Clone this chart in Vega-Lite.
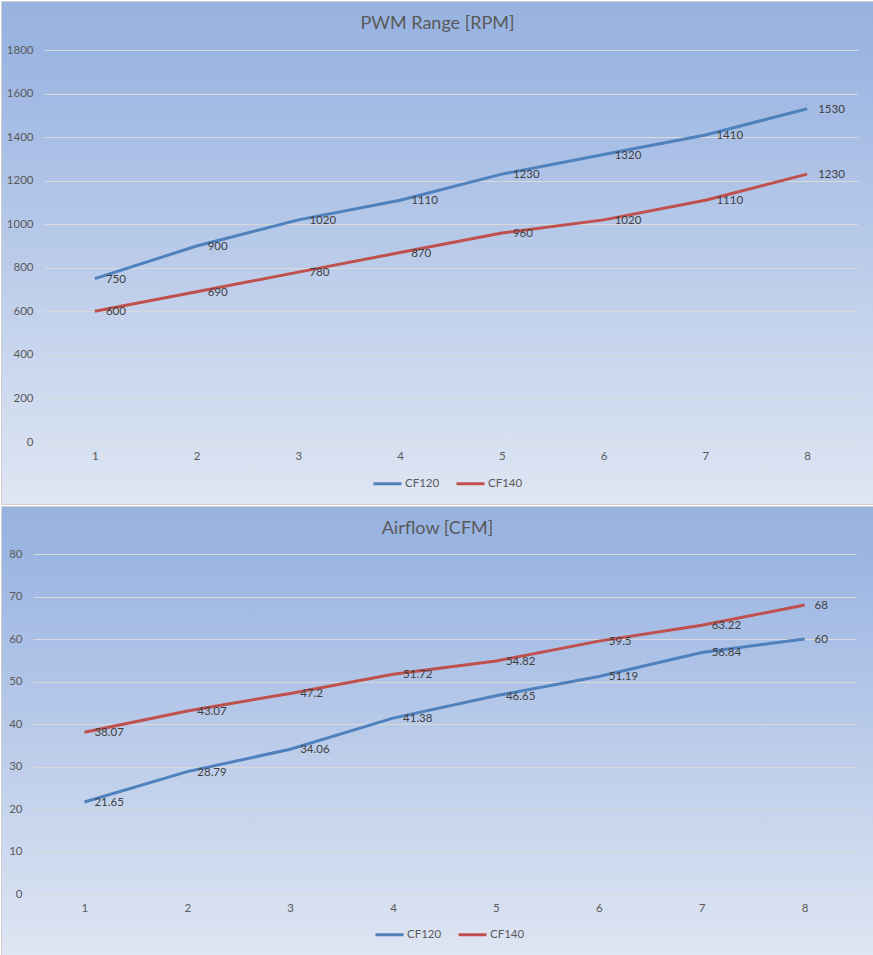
{
  "$schema": "https://vega.github.io/schema/vega-lite/v6.json",
  "padding": 0,
  "spacing": 0,
  "background": "#ffffff",
  "config": {
    "font": "Lato",
    "axis": {"labelFont": "Lato", "labelFontSize": 11.5, "labelColor": "#595959", "domain": false, "ticks": false, "title": null},
    "legend": {"labelFont": "Lato", "labelFontSize": 11.5, "labelColor": "#595959"},
    "title": {"font": "Lato", "fontSize": 18, "fontWeight": "normal", "color": "#595959", "anchor": "middle", "frame": "group"}
  },
  "resolve": {"scale": {"x": "independent", "y": "independent", "color": "independent"}, "legend": {"color": "independent"}},
  "vconcat": [
    {
      "width": 873,
      "height": 503,
      "view": {"stroke": "#d0d0d0", "strokeWidth": 1, "fill": {"gradient": "linear", "x1": 0, "y1": 0, "x2": 0, "y2": 1, "stops": [{"offset": 0, "color": "#99b3e1"}, {"offset": 0.1, "color": "#9bb5e2"}, {"offset": 1, "color": "#dfe6f3"}]}},
      "title": {"text": "PWM Range [RPM]", "offset": -32},
      "data": {"values": [
        {"x": 1, "series": "CF120", "v": 750}, {"x": 2, "series": "CF120", "v": 900}, {"x": 3, "series": "CF120", "v": 1020}, {"x": 4, "series": "CF120", "v": 1110},
        {"x": 5, "series": "CF120", "v": 1230}, {"x": 6, "series": "CF120", "v": 1320}, {"x": 7, "series": "CF120", "v": 1410}, {"x": 8, "series": "CF120", "v": 1530},
        {"x": 1, "series": "CF140", "v": 600}, {"x": 2, "series": "CF140", "v": 690}, {"x": 3, "series": "CF140", "v": 780}, {"x": 4, "series": "CF140", "v": 870},
        {"x": 5, "series": "CF140", "v": 960}, {"x": 6, "series": "CF140", "v": 1020}, {"x": 7, "series": "CF140", "v": 1110}, {"x": 8, "series": "CF140", "v": 1230}
      ]},
      "layer": [
        {
          "mark": {"type": "line", "strokeWidth": 3},
          "encoding": {
            "x": {"field": "x", "type": "quantitative", "scale": {"domain": [0.5, 8.5], "range": [43, 857], "nice": false, "zero": false},
                  "axis": {"values": [1, 2, 3, 4, 5, 6, 7, 8], "format": "d", "grid": false, "offset": -62, "labelPadding": 8}},
            "y": {"field": "v", "type": "quantitative", "scale": {"domain": [0, 1800], "range": [441, 49], "nice": false},
                  "axis": {"values": [0, 200, 400, 600, 800, 1000, 1200, 1400, 1600, 1800], "format": "d", "grid": true, "gridColor": "#d9d9d9", "gridWidth": 1, "offset": -43, "labelPadding": 11}},
            "color": {"field": "series", "type": "nominal", "scale": {"domain": ["CF120", "CF140"], "range": ["#4f81bd", "#c0504d"]},
                      "legend": {"title": null, "orient": "none", "legendX": 371, "legendY": 467, "direction": "horizontal", "symbolType": "stroke", "symbolStrokeWidth": 3, "symbolSize": 784, "labelOffset": 2, "columnPadding": 10}}
          }
        },
        {
          "mark": {"type": "text", "align": "left", "baseline": "middle", "dx": 11, "dy": 1, "fontSize": 11.5, "fill": "#404040", "font": "Lato"},
          "encoding": {
            "x": {"field": "x", "type": "quantitative"},
            "y": {"field": "v", "type": "quantitative"},
            "text": {"field": "v", "type": "nominal"}
          }
        }
      ]
    },
    {
      "width": 873,
      "height": 452,
      "view": {"stroke": "#d0d0d0", "strokeWidth": 1, "fill": {"gradient": "linear", "x1": 0, "y1": 0, "x2": 0, "y2": 1, "stops": [{"offset": 0, "color": "#99b3e1"}, {"offset": 0.1, "color": "#9bb5e2"}, {"offset": 1, "color": "#dfe6f3"}]}},
      "title": {"text": "Airflow [CFM]", "offset": -32},
      "data": {"values": [
        {"x": 1, "series": "CF120", "v": 21.65}, {"x": 2, "series": "CF120", "v": 28.79}, {"x": 3, "series": "CF120", "v": 34.06}, {"x": 4, "series": "CF120", "v": 41.38},
        {"x": 5, "series": "CF120", "v": 46.65}, {"x": 6, "series": "CF120", "v": 51.19}, {"x": 7, "series": "CF120", "v": 56.84}, {"x": 8, "series": "CF120", "v": 60},
        {"x": 1, "series": "CF140", "v": 38.07}, {"x": 2, "series": "CF140", "v": 43.07}, {"x": 3, "series": "CF140", "v": 47.2}, {"x": 4, "series": "CF140", "v": 51.72},
        {"x": 5, "series": "CF140", "v": 54.82}, {"x": 6, "series": "CF140", "v": 59.5}, {"x": 7, "series": "CF140", "v": 63.22}, {"x": 8, "series": "CF140", "v": 68}
      ]},
      "layer": [
        {
          "mark": {"type": "line", "strokeWidth": 3},
          "encoding": {
            "x": {"field": "x", "type": "quantitative", "scale": {"domain": [0.5, 8.5], "range": [32, 855], "nice": false, "zero": false},
                  "axis": {"values": [1, 2, 3, 4, 5, 6, 7, 8], "format": "d", "grid": false, "offset": -64, "labelPadding": 8}},
            "y": {"field": "v", "type": "quantitative", "scale": {"domain": [0, 80], "range": [388, 48], "nice": false},
                  "axis": {"values": [0, 10, 20, 30, 40, 50, 60, 70, 80], "format": "d", "grid": true, "gridColor": "#d9d9d9", "gridWidth": 1, "offset": -32, "labelPadding": 11}},
            "color": {"field": "series", "type": "nominal", "scale": {"domain": ["CF120", "CF140"], "range": ["#4f81bd", "#c0504d"]},
                      "legend": {"title": null, "orient": "none", "legendX": 373, "legendY": 413, "direction": "horizontal", "symbolType": "stroke", "symbolStrokeWidth": 3, "symbolSize": 784, "labelOffset": 2, "columnPadding": 10}}
          }
        },
        {
          "mark": {"type": "text", "align": "left", "baseline": "middle", "dx": 10, "dy": 1, "fontSize": 11.5, "fill": "#404040", "font": "Lato"},
          "encoding": {
            "x": {"field": "x", "type": "quantitative"},
            "y": {"field": "v", "type": "quantitative"},
            "text": {"field": "v", "type": "nominal"}
          }
        }
      ]
    }
  ]
}
